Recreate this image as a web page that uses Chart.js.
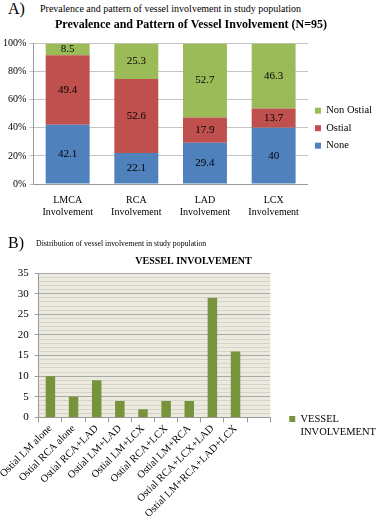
<!DOCTYPE html>
<html>
<head>
<meta charset="utf-8">
<script src="https://cdn.jsdelivr.net/npm/chart.js@4.4.1/dist/chart.umd.min.js"></script>
<style>
	html, body { margin: 0; padding: 0; background: #fff; }
	body { width: 379px; height: 522px; position: relative; overflow: hidden; font-family: 'Liberation Serif', serif; color: #000; }
	.tag { position: absolute; font-size: 16px; line-height: 1; }
	.sub { position: absolute; white-space: nowrap; line-height: 1; }
	.wrap { position: absolute; left: 0; width: 379px; }
</style>
</head>
<body>
<div class="tag" style="left:8px; top:1px;">A)</div>
<div class="sub" style="left:40px; top:4px; font-size:10px;">Prevalence and pattern of vessel involvement in study population</div>
<div class="wrap" style="top:18px; height:219px;"><canvas id="chartA"></canvas></div>

<div class="tag" style="left:8px; top:235px;">B)</div>
<div class="sub" style="left:36px; top:240px; font-size:7.8px;">Distribution of vessel involvement in study population</div>
<div class="wrap" style="top:252px; height:270px;"><canvas id="chartB"></canvas></div>

<script>
// A) pattern per vessel (percent)
const vessels = [['LMCA', 'Involvement'], ['RCA', 'Involvement'], ['LAD', 'Involvement'], ['LCX', 'Involvement']];
const noneVals = [42.1, 22.1, 29.4, 40];
const ostialVals = [49.4, 52.6, 17.9, 13.7];
const nonOstialVals = [8.5, 25.3, 52.7, 46.3];

// B) distribution of ostial involvement (count)
const combos = ['Ostial LM alone', 'Ostial RCA alone', 'Ostial RCA+LAD', 'Ostial LM+LAD', 'Ostial LM+LCX',
	'Ostial RCA+LCX', 'Ostial LM+RCA', 'Ostial RCA+LCX+LAD', 'Ostial LM+RCA+LAD+LCX', ''];
const comboCounts = [10, 5, 9, 4, 2, 4, 4, 29, 16];

const SERIF = "'Liberation Serif', 'Times New Roman', serif";
Chart.defaults.font.family = SERIF;
Chart.defaults.color = '#000';

// numbers in the middle of each stacked segment
const valueLabels = {
	id: 'valueLabels',
	afterDatasetsDraw(chart) {
		const ctx = chart.ctx;
		ctx.save();
		ctx.font = '11px ' + SERIF;
		ctx.fillStyle = '#000';
		ctx.textAlign = 'center';
		ctx.textBaseline = 'middle';
		chart.data.datasets.forEach((ds, i) => {
			chart.getDatasetMeta(i).data.forEach((bar, j) => {
				const { x, y, base } = bar.getProps(['x', 'y', 'base'], true);
				ctx.fillText(String(ds.data[j]), x, (y + base) / 2);
			});
		});
		ctx.restore();
	},
};

// tinted plot area
const plotBg = {
	id: 'plotBg',
	beforeDraw(chart, args, opts) {
		if (!opts.color) return;
		const { left, top, width, height } = chart.chartArea;
		chart.ctx.save();
		chart.ctx.fillStyle = opts.color;
		chart.ctx.fillRect(left, top, width, height);
		chart.ctx.restore();
	},
};

new Chart(document.getElementById('chartA'), {
	type: 'bar',
	data: {
		labels: vessels,
		datasets: [
			{ label: 'None', data: noneVals, backgroundColor: '#4F81BD' },
			{ label: 'Ostial', data: ostialVals, backgroundColor: '#C0504D' },
			{ label: 'Non Ostial', data: nonOstialVals, backgroundColor: '#9BBB59' },
		],
	},
	options: {
		responsive: true,
		maintainAspectRatio: false,
		animation: false,
		datasets: { bar: { barPercentage: 0.64, categoryPercentage: 1 } },
		layout: { padding: { left: 0, right: -3, top: 0, bottom: 17 } },
		plugins: {
			title: {
				display: true,
				text: 'Prevalence and Pattern of Vessel Involvement (N=95)',
				font: { family: SERIF, size: 12, weight: 'bold' },
				color: '#000',
				padding: { top: 0, bottom: 11 },
			},
			legend: {
				position: 'right',
				reverse: true,
				title: { display: true, text: '', font: { size: 7 }, padding: { top: 10, bottom: 0 } },
				labels: { boxWidth: 6, boxHeight: 6, padding: 7, font: { family: SERIF, size: 10.5 }, color: '#000' },
			},
			tooltip: { enabled: false },
		},
		scales: {
			x: {
				stacked: true,
				grid: { display: false },
				border: { color: '#999' },
				ticks: { font: { family: SERIF, size: 10 }, color: '#000', padding: 2 },
			},
			y: {
				stacked: true,
				min: 0,
				max: 100,
				ticks: { stepSize: 10, callback: (v) => v + '%', font: { family: SERIF, size: 10 }, color: '#000', padding: 3 },
				grid: { color: '#c4c4c4', tickLength: 4 },
				border: { color: '#999' },
			},
		},
	},
	plugins: [valueLabels],
});

new Chart(document.getElementById('chartB'), {
	type: 'bar',
	data: {
		labels: combos,
		datasets: [{ label: 'VESSEL INVOLVEMENT', data: comboCounts, backgroundColor: '#77933C' }],
	},
	options: {
		responsive: true,
		maintainAspectRatio: false,
		animation: false,
		datasets: { bar: { barPercentage: 0.41, categoryPercentage: 1 } },
		layout: { padding: { left: 8, right: 0, top: 0, bottom: 2 } },
		plugins: {
			plotBg: { color: '#ECEADF' },
			title: {
				display: true,
				text: 'VESSEL INVOLVEMENT',
				font: { family: SERIF, size: 10, weight: 'bold' },
				color: '#000',
				padding: { top: 3, bottom: 6 },
			},
			legend: {
				position: 'right',
				title: { display: true, text: '', padding: { top: 65, bottom: 0 } },
				labels: {
					boxWidth: 6,
					boxHeight: 6,
					padding: 3,
					font: { family: SERIF, size: 10.5 },
					color: '#000',
					generateLabels: (chart) => {
						const color = chart.data.datasets[0].backgroundColor;
						return [
							{ text: 'VESSEL', fillStyle: color, strokeStyle: color, lineWidth: 0, datasetIndex: 0 },
							{ text: 'INVOLVEMENT', fillStyle: 'rgba(0,0,0,0)', strokeStyle: 'rgba(0,0,0,0)', lineWidth: 0, datasetIndex: 0 },
						];
					},
				},
			},
			tooltip: { enabled: false },
		},
		scales: {
			x: {
				grid: { drawOnChartArea: false, tickLength: 5, color: '#999', offset: true },
				border: { color: '#999' },
				ticks: { minRotation: 45, maxRotation: 45, autoSkip: false, font: { family: SERIF, size: 10.5 }, color: '#000', padding: 0 },
			},
			y: {
				min: 0,
				max: 35,
				ticks: {
					stepSize: 1,
					autoSkip: false,
					callback: (v) => (v % 5 === 0 ? v : ''),
					font: { family: SERIF, size: 11 },
					color: '#000',
					padding: 6,
				},
				grid: {
					color: (c) => (c.tick && c.tick.value % 5 === 0 ? '#a8a8a8' : '#d6d4c8'),
					tickColor: (c) => (c.tick && c.tick.value % 5 === 0 ? '#999' : 'rgba(0,0,0,0)'),
					tickLength: 4,
				},
				border: { color: '#999' },
			},
			// hidden spacer between plot and legend (display:false keeps legend width budget)
			gap: {
				type: 'linear',
				position: 'right',
				display: false,
				afterFit: (s) => { s.width = 16; },
			},
		},
	},
	plugins: [plotBg],
});
</script>
</body>
</html>
